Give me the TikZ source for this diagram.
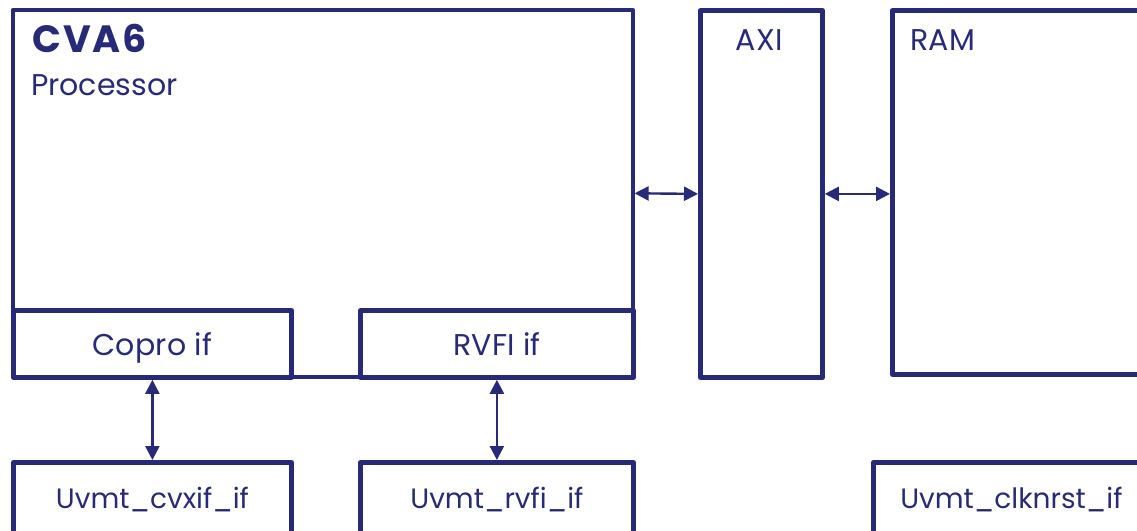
\documentclass[tikz,border=0pt]{standalone}
\usepackage{fontspec}
\setmainfont{Poppins}
\usetikzlibrary{arrows.meta,positioning,calc}
\definecolor{navy}{RGB}{38,42,120}
\begin{document}
\begin{tikzpicture}[x=1pt,y=-1pt,
  box/.style={draw=navy, line width=4.8pt, line join=round, minimum width=#1, inner sep=0pt, anchor=north west},
  lbl/.style={text=navy, font=\fontsize{30}{32}\selectfont\addfontfeature{LetterSpace=1}, inner sep=0pt, anchor=base},
  sublbl/.style={lbl, font=\fontsize{28}{30}\selectfont},
  conn/.style={draw=navy, line width=2.4pt, {Triangle[length=14pt,width=14pt]}-{Triangle[length=14pt,width=14pt]}}
]
\useasboundingbox (0,0) rectangle (1137,530);
\clip (0,0) rectangle (1137,530);
% main boxes
\node[box=620pt, minimum height=367pt, line width=3.6pt] (cva6) at (11,8) {};
\node[box=278pt, minimum height=67pt] (copro) at (11,308) {};
\node[box=273pt, minimum height=67pt] (rvfi) at (358,308) {};
\node[box=122pt, minimum height=367pt] (axi) at (698,8) {};
\node[box=270pt, minimum height=364pt] (ram) at (890,8) {};
\node[box=278pt, minimum height=74pt] (cvxif) at (11,460) {};
\node[box=273pt, minimum height=74pt] (rvfiif) at (358,460) {};
\node[box=276pt, minimum height=74pt] (clk) at (871,460) {};
% texts
\node[lbl, anchor=base west, font=\fontsize{38}{40}\selectfont\bfseries\addfontfeature{LetterSpace=5}] (t1) at (32,52) {CVA6};
\node[lbl, anchor=base west, font=\fontsize{30}{32}\selectfont] (t2) at (31,95) {Processor};
\node[lbl] (t3) at (759,50) {AXI};
\node[lbl, anchor=base west] (t4) at (910,50) {RAM};
\node[lbl] (t5) at (copro.center |- 0,355) {Copro if};
\node[lbl] (t6) at (rvfi.center |- 0,355) {RVFI if};
\node[sublbl] (t7) at (cvxif.center |- 0,508) {Uvmt\_cvxif\_if};
\node[sublbl] (t8) at (rvfiif.center |- 0,508) {Uvmt\_rvfi\_if};
\node[sublbl] (t9) at (clk.center |- 0,508) {Uvmt\_clknrst\_if};
% connectors
\draw[conn] (cva6.east) -- (axi.west);
\draw[conn] (axi.east) -- (axi.east -| ram.west);
\draw[conn] (copro.south) -- (cvxif.north);
\draw[conn] (rvfi.south) -- (rvfiif.north);
\end{tikzpicture}
\end{document}
